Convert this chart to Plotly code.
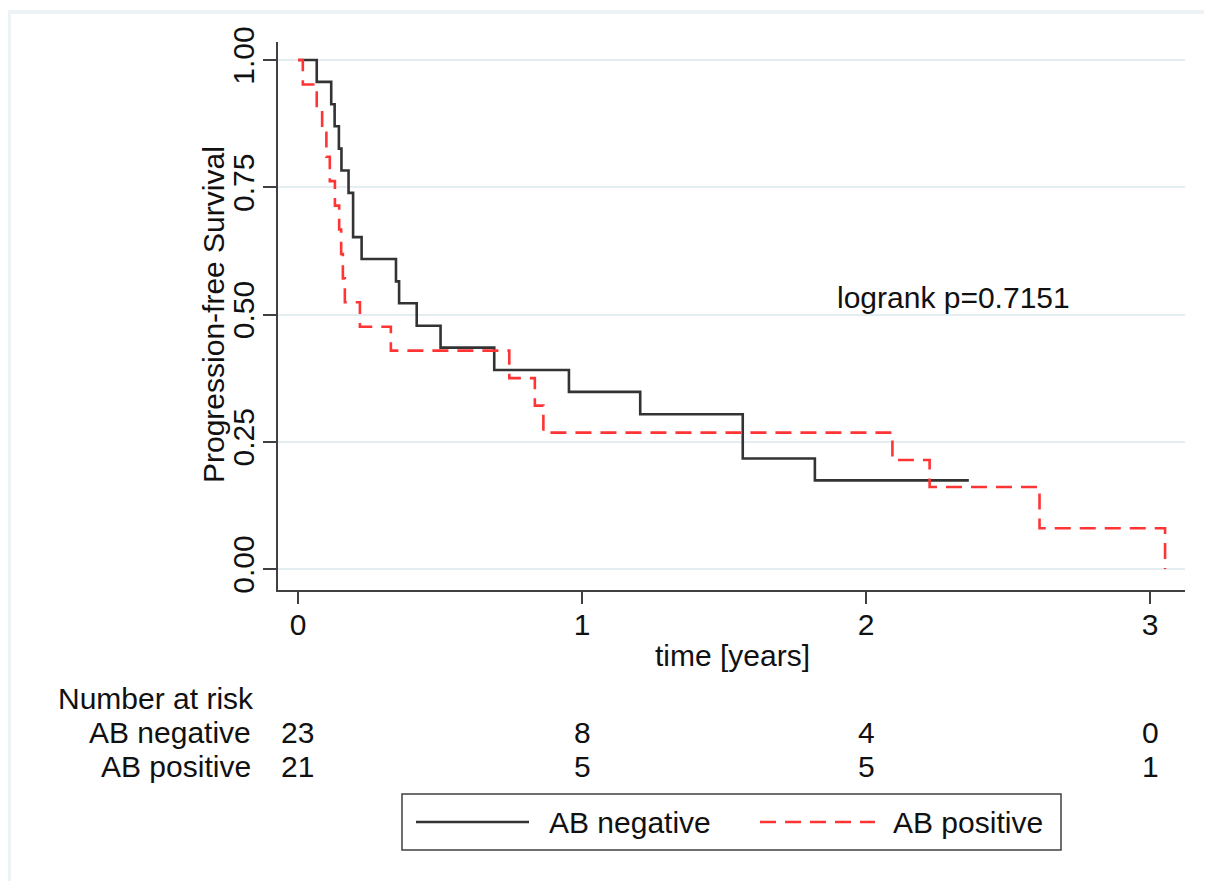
import plotly.graph_objects as go

# ---------------- data ----------------
neg_time = [0, 0.066, 0.117, 0.129, 0.144, 0.153, 0.178, 0.194, 0.224, 0.345, 0.356,
            0.418, 0.502, 0.691, 0.954, 1.205, 1.566, 1.820, 2.362]
neg_surv = [1.0, 0.957, 0.913, 0.870, 0.826, 0.783, 0.739, 0.652, 0.609, 0.565, 0.522,
            0.478, 0.435, 0.391, 0.348, 0.304, 0.217, 0.174, 0.174]

pos_time = [0, 0.017, 0.066, 0.085, 0.100, 0.112, 0.130, 0.145, 0.152, 0.158, 0.165,
            0.218, 0.327, 0.744, 0.834, 0.864, 2.093, 2.224, 2.611, 3.053]
pos_surv = [1.0, 0.952, 0.905, 0.857, 0.810, 0.762, 0.714, 0.667, 0.619, 0.571, 0.524,
            0.476, 0.429, 0.375, 0.321, 0.268, 0.214, 0.161, 0.080, 0.0]

risk_times = [0, 1, 2, 3]
risk_neg = [23, 8, 4, 0]
risk_pos = [21, 5, 5, 1]

x_ticks = [0, 1, 2, 3]
y_ticks = [0, 0.25, 0.5, 0.75, 1.0]
y_tick_labels = ["0.00", "0.25", "0.50", "0.75", "1.00"]
group_labels = ["AB negative", "AB positive"]
logrank_text = "logrank p=0.7151"
x_title = "time [years]"
y_title = "Progression-free Survival"
risk_title = "Number at risk"

# ---------------- layout helpers ----------------
OFF = 8                      # page body margin
W, H = 1212 - OFF, 881 - OFF
# plot area in page pixels
PL, PR, PT, PB = 278, 1185, 42, 590
L, R, T, B = PL - OFF, PR - OFF, PT - OFF, PB - OFF


def px(xp):  # page x pixel -> paper coordinate
    return (xp - PL) / (PR - PL)


def py(yp):  # page y pixel -> paper coordinate
    return (PB - yp) / (PB - PT)


FONT = "Liberation Sans, Arial, sans-serif"
FS = 30
TXT = "#111111"
AX = "#404040"
BLACK = "#333333"
RED = "#ff3535"
GRID = "#e4edf0"

fig = go.Figure()
fig.add_trace(go.Scatter(x=neg_time, y=neg_surv, mode="lines", name=group_labels[0],
                         line=dict(shape="hv", color=BLACK, width=2.6)))
fig.add_trace(go.Scatter(x=pos_time, y=pos_surv, mode="lines", name=group_labels[1],
                         line=dict(shape="hv", color=RED, width=2.6, dash="16px,9px")))

fig.update_layout(
    width=W, height=H, autosize=False, showlegend=False,
    margin=dict(l=L, r=W - R, t=T, b=H - B, pad=0),
    paper_bgcolor="white", plot_bgcolor="white",
    font=dict(family=FONT, size=FS, color=TXT),
)
fig.update_xaxes(range=[-0.0704, 3.1232], tickvals=x_ticks, ticks="outside", ticklen=12,
                 tickwidth=1.5, tickcolor=AX, showline=True, linecolor=AX, linewidth=1.5,
                 showgrid=False, zeroline=False, tickfont=dict(size=FS, color=TXT),
                 ticklabelstandoff=-5, fixedrange=True)
fig.update_yaxes(range=[-0.0413, 1.0354], tickvals=y_ticks, ticktext=y_tick_labels,
                 tickangle=-90, ticks="outside", ticklen=13, tickwidth=1.5, tickcolor=AX,
                 showline=True, linecolor=AX, linewidth=1.5, showgrid=True,
                 gridcolor=GRID, gridwidth=1.5, zeroline=False,
                 tickfont=dict(size=FS, color=TXT), ticklabelstandoff=-3,
                 fixedrange=True)

shapes = []
# outer light frame (top and left visible)
shapes.append(dict(type="line", xref="paper", yref="paper", x0=px(7), x1=px(1212),
                   y0=py(12), y1=py(12), line=dict(color="#edf2f5", width=4)))
shapes.append(dict(type="line", xref="paper", yref="paper", x0=px(9), x1=px(9),
                   y0=py(10), y1=py(881), line=dict(color="#edf2f5", width=4)))
# legend box
shapes.append(dict(type="rect", xref="paper", yref="paper", x0=px(402), x1=px(1061),
                   y0=py(794), y1=py(850), line=dict(color=AX, width=1.5),
                   fillcolor="white"))
shapes.append(dict(type="line", xref="paper", yref="paper", x0=px(416), x1=px(529),
                   y0=py(822), y1=py(822), line=dict(color=BLACK, width=2.6)))
shapes.append(dict(type="line", xref="paper", yref="paper", x0=px(760), x1=px(875),
                   y0=py(822), y1=py(822), line=dict(color=RED, width=2.6, dash="16px,9px")))
fig.update_layout(shapes=shapes)

ann = []


def text(x, y, s, xanchor="center", xref="paper", yref="paper", angle=0):
    ann.append(dict(x=x, y=y, xref=xref, yref=yref, text=s, showarrow=False,
                    xanchor=xanchor, yanchor="middle", textangle=angle,
                    font=dict(family=FONT, size=FS, color=TXT)))


text(px(213), py(315), y_title, angle=-90)
text(px(732), py(655), x_title)
text(1.891, 0.534, logrank_text, xanchor="left", xref="x", yref="y")
text(px(56), py(698), risk_title, xanchor="left")
text(px(253), py(732), group_labels[0], xanchor="right")
text(px(253), py(766), group_labels[1], xanchor="right")
for t, n in zip(risk_times, risk_neg):
    text(t, py(732), str(n), xref="x")
for t, n in zip(risk_times, risk_pos):
    text(t, py(766), str(n), xref="x")
text(px(547), py(822), group_labels[0], xanchor="left")
text(px(891), py(822), group_labels[1], xanchor="left")
fig.update_layout(annotations=ann)

fig.write_html("out.html")
